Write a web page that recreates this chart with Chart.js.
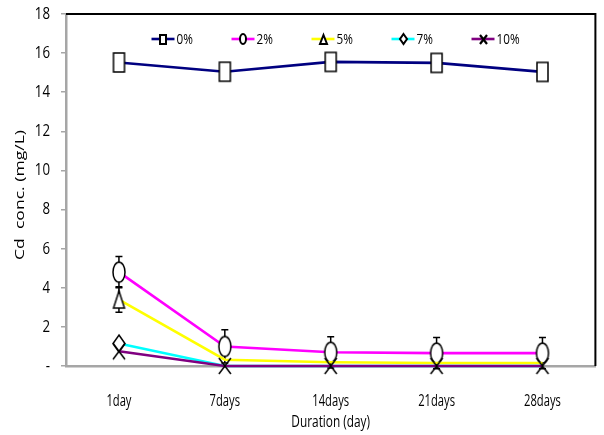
<!DOCTYPE html>
<html>
<head>
<meta charset="utf-8">
<script src="https://cdn.jsdelivr.net/npm/chart.js@4/dist/chart.umd.min.js"></script>
<style>
  html, body { margin: 0; padding: 0; background: #ffffff; }
  #wrap { width: 604px; height: 435px; }
</style>
</head>
<body>
<div id="wrap"><canvas id="chart" width="604" height="435"></canvas></div>
<script>
// Sampling times
const durations = ['1day', '7days', '14days', '21days', '28days'];

// Cd concentration (mg/L) per amendment dose
const dose0  = [15.52, 15.05, 15.55, 15.5, 15.04];
const dose2  = [4.8, 1.0, 0.7, 0.66, 0.66];
const dose5  = [3.4, 0.32, 0.19, 0.15, 0.15];
const dose7  = [1.15, 0, 0, 0, 0];
const dose10 = [0.75, 0, 0, 0, 0];

// Standard deviations (error bars)
const err2 = [0.8, 0.85, 0.8, 0.8, 0.8];
const err5 = [0.65, 0, 0, 0, 0];

const seriesNames = ['0%', '2%', '5%', '7%', '10%'];
const yTickValues = [0, 2, 4, 6, 8, 10, 12, 14, 16, 18];
const yTitle = 'Cd  conc. (mg/L)';
const xTitle = 'Duration (day)';

const SANS = '"Open Sans", "Noto Sans", sans-serif';

// Build a marker bitmap: white-filled outline shapes in black
function makeMarker(shape, w, h, lw) {
  const pad = Math.ceil(lw) + 1;
  const c = document.createElement('canvas');
  c.width = Math.ceil(w + pad * 2);
  c.height = Math.ceil(h + pad * 2);
  const g = c.getContext('2d');
  const cx = c.width / 2, cy = c.height / 2;
  g.lineWidth = lw;
  g.strokeStyle = '#000000';
  g.fillStyle = '#ffffff';
  g.beginPath();
  if (shape === 'square') {
    g.rect(cx - w / 2, cy - h / 2, w, h);
  } else if (shape === 'circle') {
    g.ellipse(cx, cy, w / 2, h / 2, 0, 0, Math.PI * 2);
  } else if (shape === 'triangle') {
    g.moveTo(cx, cy - h / 2);
    g.lineTo(cx + w / 2, cy + h / 2);
    g.lineTo(cx - w / 2, cy + h / 2);
    g.closePath();
  } else if (shape === 'diamond') {
    g.moveTo(cx, cy - h / 2);
    g.lineTo(cx + w / 2, cy);
    g.lineTo(cx, cy + h / 2);
    g.lineTo(cx - w / 2, cy);
    g.closePath();
  } else if (shape === 'cross') {
    g.moveTo(cx - w / 2, cy - h / 2);
    g.lineTo(cx + w / 2, cy + h / 2);
    g.moveTo(cx + w / 2, cy - h / 2);
    g.lineTo(cx - w / 2, cy + h / 2);
    g.stroke();
    return c;
  }
  g.fill();
  g.stroke();
  return c;
}

const plotMarkers = [
  makeMarker('square', 11, 19, 1.5),
  makeMarker('circle', 12, 20, 1.5),
  makeMarker('triangle', 11, 17, 1.5),
  makeMarker('diamond', 12, 17, 1.5),
  makeMarker('cross', 12, 16, 1.5)
];
const legendMarkers = [
  makeMarker('square', 6, 9, 2),
  makeMarker('circle', 6, 10, 2),
  makeMarker('triangle', 7, 9, 2),
  makeMarker('diamond', 7, 10, 2),
  makeMarker('cross', 7, 9, 2.2)
];
const colors = ['#000080', '#FF00FF', '#FFFF00', '#00FFFF', '#800080'];
const values = [dose0, dose2, dose5, dose7, dose10];
const errors = [null, err2, err5, null, null];

// Markers that sit under neighbouring series near zero are left out
const markerVisible = [
  [1, 1, 1, 1, 1],
  [1, 1, 1, 1, 1],
  [1, 0, 0, 0, 0],
  [1, 0, 0, 0, 0],
  [1, 1, 1, 1, 1]
];

const datasets = values.map((v, i) => ({
  label: seriesNames[i],
  data: v,
  borderColor: colors[i],
  backgroundColor: colors[i],
  borderWidth: 2.6,
  pointStyle: plotMarkers[i],
  pointRadius: markerVisible[i].map(m => m ? 6 : 0),
  pointHoverRadius: markerVisible[i].map(m => m ? 6 : 0),
  tension: 0,
  clip: false,
  order: 4 - i
}));

// Draw text squeezed horizontally (narrow face look)
function narrowText(ctx, text, x, y, size, sx, align) {
  ctx.save();
  ctx.font = size + 'px ' + SANS;
  ctx.fillStyle = '#000000';
  ctx.textAlign = align;
  ctx.textBaseline = 'middle';
  ctx.translate(x, y);
  ctx.scale(sx, 1);
  ctx.fillText(text, 0, 0);
  ctx.restore();
}

// Vertical error bars with caps, drawn beneath the series
const errorBars = {
  id: 'errorBars',
  beforeDatasetsDraw(chart) {
    const ctx = chart.ctx;
    const y = chart.scales.y;
    ctx.save();
    ctx.strokeStyle = '#000000';
    ctx.lineWidth = 1.5;
    errors.forEach((errs, i) => {
      if (!errs) return;
      const meta = chart.getDatasetMeta(i);
      meta.data.forEach((pt, j) => {
        const e = errs[j];
        if (!e) return;
        const v = values[i][j];
        const yTop = y.getPixelForValue(v + e);
        const yBot = y.getPixelForValue(v - e);
        ctx.beginPath();
        ctx.moveTo(pt.x, yTop); ctx.lineTo(pt.x, yBot);
        ctx.moveTo(pt.x - 3.5, yTop); ctx.lineTo(pt.x + 3.5, yTop);
        ctx.moveTo(pt.x - 3.5, yBot); ctx.lineTo(pt.x + 3.5, yBot);
        ctx.stroke();
      });
    });
    ctx.restore();
  }
};

// Black frame along the top and right of the plot area
const frame = {
  id: 'frame',
  afterDatasetsDraw(chart) {
    const { ctx, chartArea: a } = chart;
    ctx.save();
    ctx.strokeStyle = '#000000';
    ctx.lineWidth = 2;
    ctx.beginPath();
    ctx.moveTo(a.left, a.top);
    ctx.lineTo(a.right, a.top);
    ctx.lineTo(a.right, a.bottom);
    ctx.stroke();
    ctx.restore();
  }
};

// Tick labels and axis titles in a condensed style
const axisText = {
  id: 'axisText',
  afterDraw(chart) {
    const { ctx, chartArea: a } = chart;
    const xs = chart.scales.x, ys = chart.scales.y;
    ys.ticks.forEach(t => {
      const py = ys.getPixelForValue(t.value);
      narrowText(ctx, t.value === 0 ? '-' : String(t.value), a.left - 16, py, 17, 0.78, 'right');
    });
    xs.ticks.forEach((t, i) => {
      const px = xs.getPixelForTick(i);
      narrowText(ctx, durations[i], px, a.bottom + 35, 16, 0.7, 'center');
    });
    narrowText(ctx, xTitle, (a.left + a.right) / 2, a.bottom + 56, 16, 0.74, 'center');
    // y title, rotated and stretched along its length
    ctx.save();
    ctx.translate(20, (a.top + a.bottom) / 2 + 5);
    ctx.rotate(-Math.PI / 2);
    ctx.scale(1.3, 1);
    ctx.font = '13.5px ' + SANS;
    ctx.fillStyle = '#000000';
    ctx.textAlign = 'center';
    ctx.textBaseline = 'middle';
    ctx.fillText(yTitle, 0, 0);
    ctx.restore();
  }
};

// Single-row legend placed inside the plot area
const insideLegend = {
  id: 'insideLegend',
  afterDraw(chart) {
    const { ctx, chartArea: a } = chart;
    const y = a.top + 25;
    ctx.save();
    seriesNames.forEach((name, i) => {
      const cx = a.left + 97 + i * 80;
      ctx.strokeStyle = colors[i];
      ctx.lineWidth = 2.6;
      ctx.beginPath();
      ctx.moveTo(cx - 11.5, y);
      ctx.lineTo(cx + 11.5, y);
      ctx.stroke();
      const m = legendMarkers[i];
      ctx.drawImage(m, Math.round(cx - m.width / 2), Math.round(y - m.height / 2));
      narrowText(ctx, name, cx + 13.5, y + 1, 15, 0.78, 'left');
    });
    ctx.restore();
  }
};

new Chart(document.getElementById('chart'), {
  type: 'line',
  data: { labels: durations, datasets },
  options: {
    responsive: false,
    animation: false,
    devicePixelRatio: 1,
    layout: { padding: { top: 14, right: 2, left: 0, bottom: 0 } },
    plugins: {
      legend: { display: false },
      tooltip: { enabled: false }
    },
    scales: {
      x: {
        offset: true,
        grid: { display: false, drawTicks: false },
        border: { display: true, color: '#A6A6A6', width: 2.5 },
        ticks: { display: false },
        title: { display: false, text: xTitle },
        afterFit(scale) { scale.height = 69; }
      },
      y: {
        min: 0,
        max: 18,
        afterBuildTicks(scale) {
          scale.ticks = yTickValues.map(v => ({ value: v }));
        },
        grid: {
          display: true,
          drawOnChartArea: false,
          drawTicks: true,
          tickLength: 5,
          color: '#A6A6A6',
          lineWidth: 1.5
        },
        border: { display: true, color: '#A6A6A6', width: 2.5 },
        ticks: { display: false },
        title: { display: false, text: yTitle },
        afterFit(scale) { scale.width = 66; }
      }
    }
  },
  plugins: [errorBars, frame, axisText, insideLegend]
});
</script>
</body>
</html>
